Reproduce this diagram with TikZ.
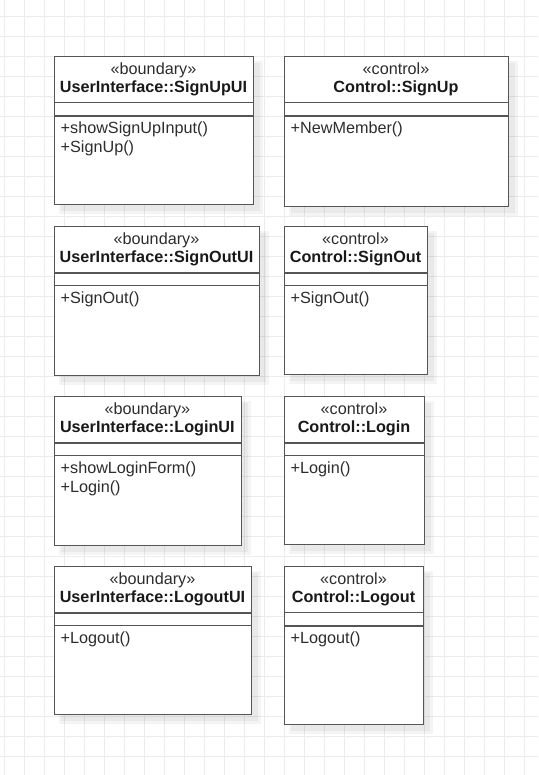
\documentclass[tikz,border=0pt]{standalone}
\usepackage{fontspec}
\setmainfont{Liberation Sans}
\definecolor{gridc}{RGB}{236,236,236}
\definecolor{boxc}{RGB}{85,85,85}
\definecolor{txtc}{RGB}{45,45,45}
\tikzset{
  gridline/.style={draw=gridc, line width=0.8pt},
  classbox/.style={draw=boxc, line width=1.4pt, fill=white, rectangle, inner sep=0pt, anchor=north west},
  divider/.style={draw=boxc, line width=1.2pt},
  shadowbox/.style={fill=black, opacity=0.045, draw=none},
  stereo/.style={font=\fontsize{16.2}{19.4}\selectfont, text=txtc, inner sep=0pt, anchor=base},
  titletxt/.style={font=\fontsize{16.2}{19.4}\selectfont\bfseries, text=black!90, inner sep=0pt, anchor=base},
  methtxt/.style={font=\fontsize{16.2}{19.4}\selectfont, text=txtc, inner sep=0pt, anchor=base west},
}
\begin{document}
\begin{tikzpicture}[x=1pt,y=-1pt]
\fill[white] (0,0) rectangle (538,775);
\useasboundingbox (0,0) rectangle (538,775);
\foreach \gx in {4.5,24.5,...,538} {\draw[gridline] (\gx,0) -- (\gx,775);}
\foreach \gy in {16.5,36.5,...,775} {\draw[gridline] (0,\gy) -- (538,\gy);}
\foreach \n/\xa/\ya/\xb/\yb/\da/\db/\st/\ti/\ma/\mb in {
  signupui/54/55.7/253/204/102.7/116/{«boundary»}/{UserInterface::SignUpUI}/{+showSignUpInput()}/{+SignUp()},
  signup/284/55.7/508/205.7/102.7/116/{«control»}/{Control::SignUp}/{+NewMember()}/{},
  signoutui/54/225.7/259/375/273/285.7/{«boundary»}/{UserInterface::SignOutUI}/{+SignOut()}/{},
  signout/284/225.7/427/374/273/285.7/{«control»}/{Control::SignOut}/{+SignOut()}/{},
  loginui/54/395.7/240.7/545/443/455.7/{«boundary»}/{UserInterface::LoginUI}/{+showLoginForm()}/{+Login()},
  login/284/395.7/424/544/443/455.7/{«control»}/{Control::Login}/{+Login()}/{},
  logoutui/54/565.7/251/714/613/625.7/{«boundary»}/{UserInterface::LogoutUI}/{+Logout()}/{},
  logout/284/565.7/423/724/612.7/626/{«control»}/{Control::Logout}/{+Logout()}/{}
} {
  \fill[shadowbox] (\xa+5,\ya+5) rectangle (\xb+10,\yb+10);
  \fill[shadowbox] (\xa+7,\ya+7) rectangle (\xb+7,\yb+7);
  \pgfmathsetmacro{\w}{\xb-\xa}
  \pgfmathsetmacro{\h}{\yb-\ya}
  \pgfmathsetmacro{\cx}{(\xa+\xb)/2}
  \node[classbox, minimum width=\w pt, minimum height=\h pt] (\n) at (\xa,\ya) {};
  \draw[divider] (\n.west |- 0,\da) -- (\n.east |- 0,\da);
  \draw[divider] (\n.west |- 0,\db) -- (\n.east |- 0,\db);
  \node[stereo] (\n-st) at (\cx,\ya+18.6) {\st};
  \node[titletxt] (\n-ti) at (\cx,\ya+37) {\ti};
  \node[methtxt] (\n-ma) at (\xa+6.5,\db+17.8) {\ma};
  \node[methtxt] (\n-mb) at (\xa+6.5,\db+36.8) {\mb};
}
\end{tikzpicture}
\end{document}
